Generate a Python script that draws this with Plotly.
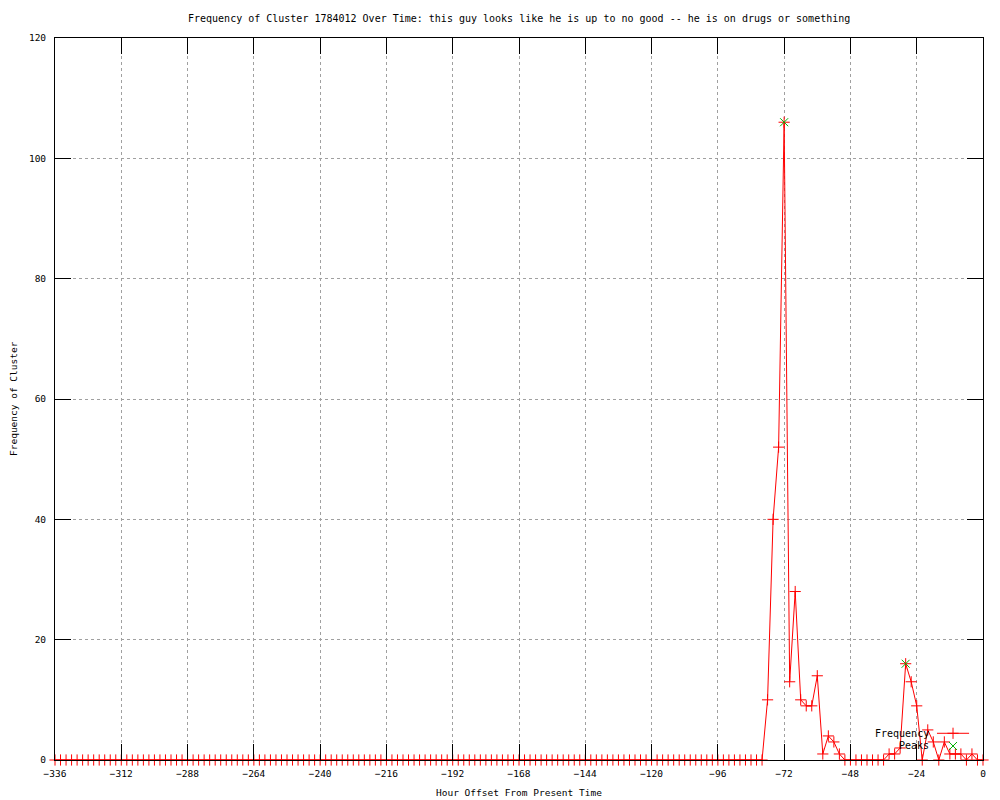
import plotly.graph_objects as go

# ---- data ----
hours = list(range(-336, 1, 2))  # hour offsets, 2-hour bins
frequency = [
    0, 0, 0, 0, 0, 0, 0, 0, 0, 0,
    0, 0, 0, 0, 0, 0, 0, 0, 0, 0,
    0, 0, 0, 0, 0, 0, 0, 0, 0, 0,
    0, 0, 0, 0, 0, 0, 0, 0, 0, 0,
    0, 0, 0, 0, 0, 0, 0, 0, 0, 0,
    0, 0, 0, 0, 0, 0, 0, 0, 0, 0,
    0, 0, 0, 0, 0, 0, 0, 0, 0, 0,
    0, 0, 0, 0, 0, 0, 0, 0, 0, 0,
    0, 0, 0, 0, 0, 0, 0, 0, 0, 0,
    0, 0, 0, 0, 0, 0, 0, 0, 0, 0,
    0, 0, 0, 0, 0, 0, 0, 0, 0, 0,
    0, 0, 0, 0, 0, 0, 0, 0, 0, 0,
    0, 0, 0, 0, 0, 0, 0, 0, 0,          # -336 .. -80
    10, 40, 52, 106, 13, 28, 10, 9, 9, 14, 1, 4, 3, 1, 0,  # -78 .. -50
    0, 0, 0, 0, 0, 0, 0,                # -48 .. -36
    1, 1, 2, 16, 13, 9, 0, 5, 3, 0, 3, 1, 1, 1, 0, 1, 0, 0,  # -34 .. 0
]
peak_hours = [-72, -28]
peak_values = [106, 16]

x_ticks = list(range(-336, 1, 24))
y_ticks = list(range(0, 121, 20))

title_text = ("Frequency of Cluster 1784012 Over Time: this guy looks like he is "
              "up to no good -- he is on drugs or something")
x_label = "Hour Offset From Present Time"
y_label = "Frequency of Cluster"
legend_names = ["Frequency", "Peaks"]

RED = "#ff0000"
GREEN = "#00b000"
FONT = "DejaVu Sans Mono"
MSIZE = 8

fig = go.Figure()

fig.add_trace(go.Scatter(
    x=hours, y=frequency, mode="lines+markers", name=legend_names[0],
    line=dict(color=RED, width=1),
    marker=dict(symbol="cross-thin", size=MSIZE, color=RED,
                line=dict(color=RED, width=1)),
    cliponaxis=False, showlegend=False,
))
fig.add_trace(go.Scatter(
    x=peak_hours, y=peak_values, mode="markers", name=legend_names[1],
    marker=dict(symbol="x-thin", size=MSIZE, color=GREEN,
                line=dict(color=GREEN, width=1)),
    cliponaxis=False, showlegend=False,
))

# ---- gnuplot-style key (text left of sample), drawn on an overlay axis in [0,1] ----
key_y = [0.037, 0.0194]
fig.add_trace(go.Scatter(
    x=[0.9504, 0.985], y=[key_y[0], key_y[0]], mode="lines",
    line=dict(color=RED, width=1), xaxis="x2", yaxis="y2",
    showlegend=False, hoverinfo="skip", cliponaxis=False,
))
fig.add_trace(go.Scatter(
    x=[0.9677], y=[key_y[0]], mode="markers",
    marker=dict(symbol="cross-thin", size=MSIZE, color=RED, line=dict(color=RED, width=1)),
    xaxis="x2", yaxis="y2", showlegend=False, hoverinfo="skip", cliponaxis=False,
))
fig.add_trace(go.Scatter(
    x=[0.9677], y=[key_y[1]], mode="markers",
    marker=dict(symbol="x-thin", size=MSIZE, color=GREEN, line=dict(color=GREEN, width=1)),
    xaxis="x2", yaxis="y2", showlegend=False, hoverinfo="skip", cliponaxis=False,
))

annotations = [
    dict(text=title_text, xref="paper", yref="paper", x=0.5, y=1, yshift=20,
         showarrow=False, font=dict(family=FONT, size=10, color="black"),
         xanchor="center", yanchor="middle"),
    dict(text=x_label, xref="paper", yref="paper", x=0.5, y=0, yshift=-32,
         showarrow=False, font=dict(family=FONT, size=9.5, color="black"),
         xanchor="center", yanchor="middle"),
    dict(text=y_label, xref="paper", yref="paper", x=0, y=0.5, xshift=-42,
         textangle=-90, showarrow=False, font=dict(family=FONT, size=9.5, color="black"),
         xanchor="center", yanchor="middle"),
]
for name, yy in zip(legend_names, key_y):
    annotations.append(dict(text=name, xref="x2", yref="y2", x=0.9437, y=yy,
                            showarrow=False, xanchor="right", yanchor="middle",
                            font=dict(family=FONT, size=10, color="black")))

axis_common = dict(
    showline=True, linecolor="black", linewidth=1, mirror="ticks",
    ticks="inside", ticklen=16, tickcolor="black", tickwidth=1,
    showgrid=True, gridcolor="#a0a0a0", gridwidth=1, griddash="dot",
    zeroline=False, tickfont=dict(family=FONT, size=9.5, color="black"),
)

# The page body has an 8px margin, so margins are reduced by 8px to place the
# plot area at the same screen position as the reference.
fig.update_layout(
    width=1000, height=800,
    margin=dict(l=47, r=25, t=30, b=48),
    paper_bgcolor="white", plot_bgcolor="white",
    xaxis=dict(range=[-336, 0], tickvals=x_ticks, **axis_common, ticklabelstandoff=5),
    yaxis=dict(range=[0, 120], tickvals=y_ticks, **axis_common, ticklabelstandoff=6),
    xaxis2=dict(range=[0, 1], overlaying="x", visible=False, domain=[0, 1]),
    yaxis2=dict(range=[0, 1], overlaying="y", visible=False, domain=[0, 1]),
    annotations=annotations,
    showlegend=False,
)

fig.write_html("out.html")
